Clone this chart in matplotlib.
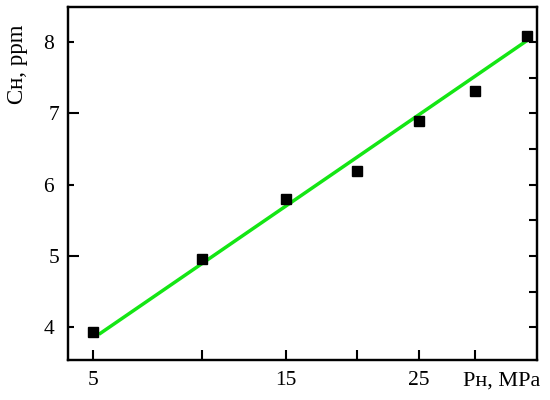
import numpy as np
import matplotlib
matplotlib.use("Agg")
import matplotlib.pyplot as plt

plt.rcParams['font.family'] = ['Liberation Serif', 'DejaVu Serif']

# hydrogen pressure (MPa) and hydrogen concentration (ppm)
p_h = [5, 10, 15, 20, 25, 30, 35]
c_h = [3.93, 4.96, 5.80, 6.19, 6.89, 7.31, 8.08]

# ends of the fitted line
fit_p = [5.23, 35.0]
fit_c = [3.90, 8.02]

x_ticks = [5, 10, 15, 20, 25, 30]
x_labels = ['5', '', '15', '', '25', '']

fig = plt.figure(figsize=(5.5, 4), dpi=100)
ax = fig.add_axes([0.1236, 0.1, 0.8527, 0.8825])

ax.set_xscale('function', functions=(np.sqrt, np.square))
ax.plot(fit_p, fit_c, color='#14e614', lw=2.5, solid_capstyle='butt', zorder=2)
ax.plot(p_h, c_h, 's', color='black', ms=6.5, zorder=3)

ax.set_xlim(4.1, 36)
ax.set_ylim(3.54, 8.49)

ax.set_xticks(x_ticks)
ax.set_xticklabels(x_labels)
ax.xaxis.set_minor_locator(plt.NullLocator())
ax.tick_params(axis='x', direction='in', length=7, width=1.5, labelsize=15.5, pad=8)

ax.set_yticks([5, 7])
ax.set_yticks([4, 6, 8], minor=True)
ax.set_yticklabels(['5', '7'])
ax.set_yticklabels(['4', '6', '8'], minor=True)
ax.tick_params(axis='y', which='major', direction='in', length=8, width=1.5, labelsize=15.5, pad=6)
ax.tick_params(axis='y', which='minor', direction='in', length=4, width=1.5, labelsize=15.5, pad=10)

ax2 = ax.twinx()
ax2.set_ylim(ax.get_ylim())
ax2.set_yticks(np.arange(4, 8.01, 0.5))
ax2.tick_params(axis='y', direction='in', length=6, width=1.5, labelright=False)

for a in (ax, ax2):
    for s in a.spines.values():
        s.set_linewidth(1.6)

fig.text(0.031, 0.84, 'C\u029c, ppm', rotation=90, ha='center', va='center', fontsize=16.5)
fig.text(0.912, 0.047, 'P\u029c, MPa', ha='center', va='center', fontsize=16)

fig.savefig('out.png', dpi=100)
